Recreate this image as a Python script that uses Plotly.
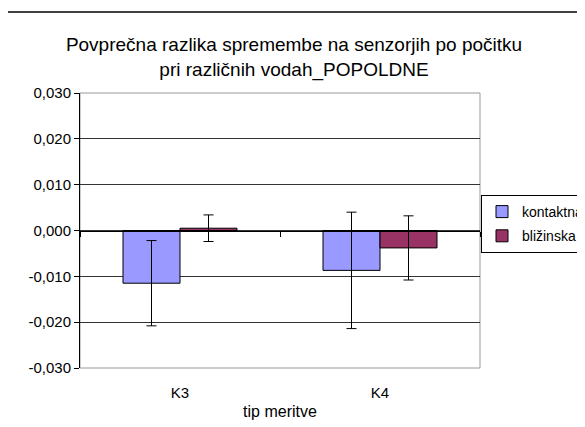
import plotly.graph_objects as go

categories = ["K3", "K4"]
kontaktna = [-0.0115, -0.0087]
kontaktna_err = [0.0093, 0.0127]
blizinska = [0.0005, -0.0038]
blizinska_err = [0.0029, 0.0070]
y_ticks = [-0.03, -0.02, -0.01, 0.0, 0.01, 0.02, 0.03]
y_tick_labels = ["-0,030", "-0,020", "-0,010", "0,000", "0,010", "0,020", "0,030"]

FONT = "Liberation Sans, Arial, sans-serif"
OFF = 8  # default page body margin
W, H = 585, 427 - OFF
L, T = 80 - OFF, 93 - OFF
PW, PH = 400, 275
R, B = W - L - PW, H - T - PH

fig = go.Figure()
fig.add_trace(go.Bar(
    name="kontaktna", x=categories, y=kontaktna, legendgroup="a",
    marker=dict(color="#9999FF", line=dict(color="black", width=1)),
    error_y=dict(type="data", array=kontaktna_err, color="black", thickness=1, width=5),
))
fig.add_trace(go.Bar(
    name="bližinska", x=categories, y=blizinska, legendgroup="b",
    marker=dict(color="#993366", line=dict(color="black", width=1)),
    error_y=dict(type="data", array=blizinska_err, color="black", thickness=1, width=5),
))
# invisible trace to carry the category axis drawn through zero
fig.add_trace(go.Scatter(x=categories, y=[0, 0], xaxis="x2", mode="markers",
                         marker=dict(opacity=0), showlegend=False, hoverinfo="skip"))

fig.update_layout(
    width=W, height=H,
    margin=dict(l=L, r=R, t=T, b=B, autoexpand=False),
    paper_bgcolor="white", plot_bgcolor="white",
    font=dict(family=FONT, size=15, color="black"),
    barmode="group", bargap=0.43, bargroupgap=0,
    title=dict(text="Povprečna razlika spremembe na senzorjih po počitku<br>pri različnih vodah_POPOLDNE",
               x=(294 - OFF - L) / PW, xanchor="center", xref="paper", yref="container",
               y=1 - (51 - OFF) / H, yanchor="middle",
               font=dict(family=FONT, size=19, color="black")),
    showlegend=True,
    legend=dict(x=(481 - OFF - L) / PW, y=(H - B - (195 - OFF)) / PH, xanchor="left", yanchor="top",
                bordercolor="black", borderwidth=1, bgcolor="white",
                font=dict(family=FONT, size=14, color="black"),
                itemwidth=30, traceorder="grouped", tracegroupgap=3),
    xaxis=dict(type="category", categoryorder="array", categoryarray=categories,
               range=[-0.5, 1.5], showline=False, ticks="", showgrid=False,
               tickfont=dict(family=FONT, size=15), ticklabelstandoff=14,
               title=dict(text="tip meritve", font=dict(family=FONT, size=16), standoff=5)),
    xaxis2=dict(type="category", categoryorder="array", categoryarray=categories,
                range=[-0.5, 1.5], overlaying="x", anchor="free", position=0.5,
                side="bottom", showline=True, linecolor="black", linewidth=1,
                ticks="outside", tickson="boundaries", ticklen=5, tickcolor="black",
                showticklabels=False, showgrid=False),
    yaxis=dict(range=[-0.03, 0.03], tickvals=y_ticks, ticktext=y_tick_labels,
               showline=True, linecolor="black", linewidth=1,
               ticks="outside", ticklen=5, tickcolor="black",
               showgrid=True, gridcolor="#333333", gridwidth=1,
               zeroline=False, tickfont=dict(family=FONT, size=15)),
    shapes=[
        dict(type="rect", xref="paper", yref="paper", x0=0, x1=1, y0=0, y1=1,
             line=dict(color="#999999", width=1), layer="below"),
        dict(type="line", xref="paper", yref="paper", x0=-L / PW, x1=(W - L) / PW,
             y0=(H - B - (12 - OFF)) / PH, y1=(H - B - (12 - OFF)) / PH,
             line=dict(color="black", width=1.5)),
    ],
)

fig.write_html("out.html")
